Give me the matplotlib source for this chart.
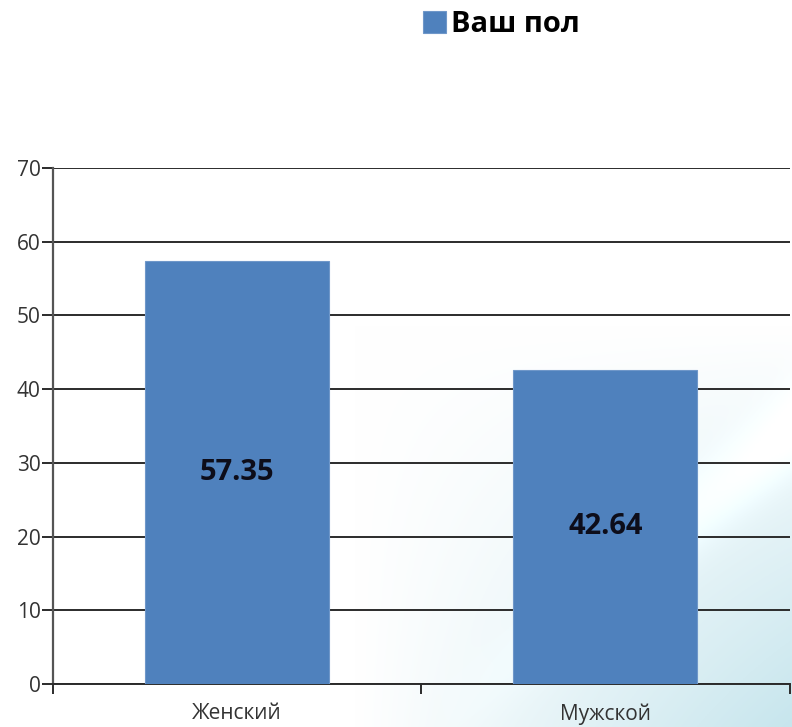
import numpy as np
import matplotlib.pyplot as plt

# ---------------------------------------------------------
# Data
# ---------------------------------------------------------
categories = ['Женский', 'Мужской']
values = [57.35, 42.64]
series_name = 'Ваш пол'
y_ticks = [0, 10, 20, 30, 40, 50, 60, 70]

bar_color = '#4F81BD'
grid_color = '#2b2b2b'

plt.rcParams['font.family'] = ['Open Sans', 'DejaVu Sans']

fig = plt.figure(figsize=(7.92, 7.27), dpi=100)

# white slide background with a pale cyan tint towards the lower right
bg = fig.add_axes([0, 0, 1, 1], zorder=-10)
gx, gy = np.meshgrid(np.linspace(0, 1, 400), np.linspace(0, 1, 400))
tint = np.clip((gx - 0.45) / 0.55, 0, 1) * np.clip((0.55 - gy) / 0.55, 0, 1)
band = np.exp(-((gy - 0.9 * (gx - 0.55)) ** 2) / 0.003) * np.clip((gx - 0.55) / 0.45, 0, 1)
light = 1.0 + 0.08 * band
rgb = np.dstack([light - 0.22 * tint, light - 0.10 * tint, light - 0.07 * tint])
bg.imshow(np.clip(rgb, 0, 1), extent=[0, 1, 0, 1], origin='lower', aspect='auto')
bg.axis('off')

ax = fig.add_axes([0.0669, 0.0591, 0.93, 0.7098])
ax.patch.set_alpha(0)

x = np.arange(len(categories))
bars = ax.bar(x, values, width=0.5, color=bar_color, edgecolor='#6f97c9',
              linewidth=0.8, zorder=3, label=series_name)

for rect, v in zip(bars, values):
    ax.text(rect.get_x() + rect.get_width() / 2, v / 2, f'{v:.2f}',
            ha='center', va='center', fontsize=21, fontweight='bold',
            color='#0d0d1a', zorder=4)

ax.set_xlim(-0.5, 1.5)
ax.set_ylim(0, 70)
ax.set_yticks(y_ticks)
ax.yaxis.grid(True, color=grid_color, linewidth=1.4, zorder=1)
ax.set_axisbelow(True)

ax.set_xticks(x)
ax.set_xticklabels(categories, fontsize=15, color='#333333')
ax.set_xticks([-0.5, 0.5, 1.5], minor=True)
ax.tick_params(axis='x', which='major', length=0, pad=14)
ax.tick_params(axis='x', which='minor', length=7, width=1.4, color=grid_color, direction='out')
ax.tick_params(axis='y', length=8, width=1.4, color=grid_color, labelsize=15,
               labelcolor='#333333', pad=1)

for side in ['top', 'right']:
    ax.spines[side].set_visible(False)
ax.spines['left'].set_color('#555555')
ax.spines['left'].set_linewidth(1.6)
ax.spines['bottom'].set_color(grid_color)
ax.spines['bottom'].set_linewidth(1.4)

fig.legend(handles=[bars], labels=[series_name], loc='center',
           bbox_to_anchor=(0.633, 0.966), frameon=False, handlelength=0.8,
           handleheight=0.8, handletextpad=0.15,
           prop={'size': 21, 'weight': 'bold'})

fig.savefig('out.png', dpi=100)
